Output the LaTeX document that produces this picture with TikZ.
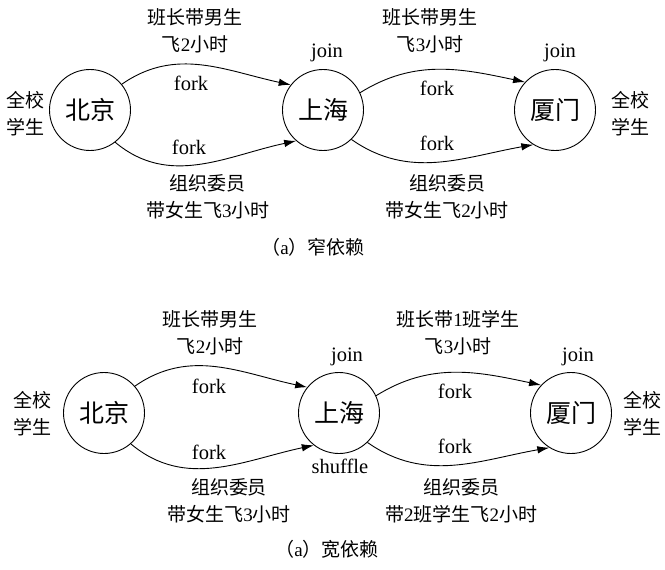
\documentclass[tikz,border=0pt]{standalone}
\usepackage{fontspec}
\setmainfont{Liberation Serif}
\newfontfamily\cjk{Noto Sans CJK SC}
\newfontfamily\latn{Liberation Serif}
\newcommand{\lt}[1]{{\latn #1}}
\usetikzlibrary{arrows.meta}
\begin{document}
\begin{tikzpicture}[x=1pt,y=-1pt,
  city/.style={circle,draw,line width=0.9pt,minimum size=81pt,inner sep=0pt,font=\cjk\fontsize{25}{27}\selectfont},
  lbl/.style={font=\cjk\fontsize{19}{27}\selectfont,align=center,inner sep=0pt},
  lat/.style={font=\fontsize{20.5}{22}\selectfont,inner sep=0pt},
  arr/.style={line width=0.9pt,-{Latex[length=12pt,width=7.5pt]}}]
\useasboundingbox (0,0) rectangle (665,570);
% ---------- top: narrow dependency ----------
\node[city] (bj1) at (90,110) {北京};
\node[city] (sh1) at (323,110) {上海};
\node[city] (xm1) at (555,110) {厦门};
\node[lbl] (l1) at (25,114) {全校\\学生};
\node[lbl] (r1) at (630,114) {全校\\学生};
\node[lbl] (t1a) at (195,31) {班长带男生\\飞\lt{2}小时};
\node[lbl] (t1b) at (430,31) {班长带男生\\飞\lt{3}小时};
\node[lbl] (b1a) at (208,197) {组织委员\\带女生飞\lt{3}小时};
\node[lbl] (b1b) at (447,197) {组织委员\\带女生飞\lt{2}小时};
\node[lat] (j1a) at (327,53) {join};
\node[lat] (j1b) at (560,53) {join};
\node[lat] (f1a) at (191,83) {fork};
\node[lat] (f1b) at (189,147) {fork};
\node[lat] (f1c) at (437,88) {fork};
\node[lat] (f1d) at (437,143) {fork};
\draw[arr] (bj1.39) to[out=35,in=168] (sh1.142);
\draw[arr] (bj1.-52) to[out=-40,in=192] (sh1.-131);
\draw[arr] (sh1.25) to[out=32,in=168] (xm1.137);
\draw[arr] (sh1.-46) to[out=-35,in=190] (xm1.-122);
\node[lbl] (c1) at (313,247) {（\lt{a}）窄依赖};
% ---------- bottom: wide dependency ----------
\node[city] (bj2) at (104,413) {北京};
\node[city] (sh2) at (339,413) {上海};
\node[city] (xm2) at (571,413) {厦门};
\node[lbl] (l2) at (32,414) {全校\\学生};
\node[lbl] (r2) at (642,414) {全校\\学生};
\node[lbl] (t2a) at (210,333) {班长带男生\\飞\lt{2}小时};
\node[lbl] (t2b) at (458,333) {班长带\lt{1}班学生\\飞\lt{3}小时};
\node[lbl] (b2a) at (229,501) {组织委员\\带女生飞\lt{3}小时};
\node[lbl] (b2b) at (461,501) {组织委员\\带\lt{2}班学生飞\lt{2}小时};
\node[lat] (j2a) at (347,357) {join};
\node[lat] (j2b) at (578,357) {join};
\node[lat] (f2a) at (209,386) {fork};
\node[lat] (f2b) at (209,452) {fork};
\node[lat] (f2c) at (455,391) {fork};
\node[lat] (f2d) at (455,446) {fork};
\node[lat] (sf) at (340,466) {shuffle};
\draw[arr] (bj2.41) to[out=35,in=168] (sh2.141);
\draw[arr] (bj2.-49) to[out=-40,in=192] (sh2.-128);
\draw[arr] (sh2.25) to[out=32,in=168] (xm2.137);
\draw[arr] (sh2.-46) to[out=-35,in=190] (xm2.-122);
\node[lbl] (c2) at (327,549) {（\lt{a}）宽依赖};
\end{tikzpicture}
\end{document}
